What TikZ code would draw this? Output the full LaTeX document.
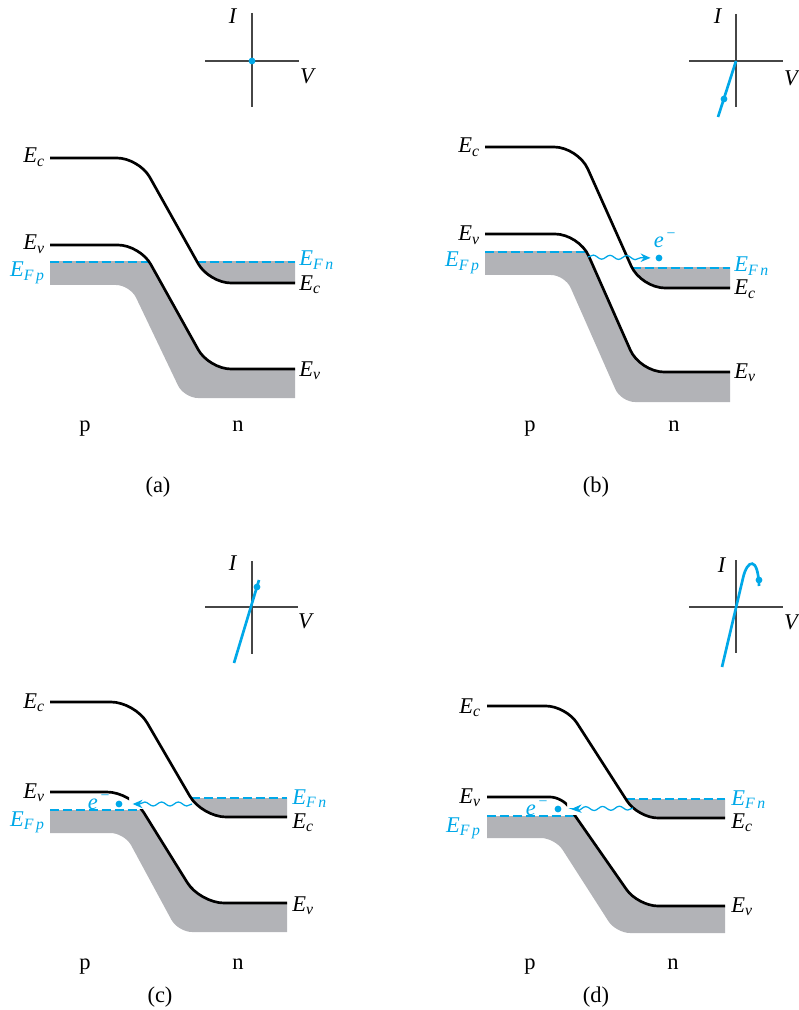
\documentclass[tikz,border=0pt]{standalone}
\usepackage{fontspec}
\setmainfont{Liberation Serif}
\usetikzlibrary{arrows.meta, decorations.pathmorphing}
\definecolor{fermiblue}{RGB}{0,168,232}
\definecolor{bandgray}{RGB}{178,179,183}
\definecolor{axisgray}{RGB}{70,70,70}
\newcommand{\En}[1]{\textit{E}\textsubscript{\textit{#1}}}
\newcommand{\elec}{\textit{e}\textsuperscript{\,−}}
\tikzset{%
  level/.style={line width=1.9pt, rounded corners=.55cm},
  fermi/.style={fermiblue, line width=1.05pt, dash pattern=on 6.4pt off 2.8pt},
  filled/.style={fill=bandgray},
  axis/.style={axisgray, line width=.9pt},
  ivline/.style={fermiblue, line width=1.9pt},
  dot/.style={circle, fill=fermiblue, inner sep=0pt, minimum size=.17cm},
  wavy/.style={fermiblue, line width=.9pt, decorate,
               decoration={snake, amplitude=.05cm, segment length=.42cm, post length=.22cm},
               -{Stealth[length=7pt,width=6pt]}},
  lbl/.style={font=\fontsize{16}{19}\selectfont, inner sep=0pt},
}

\begin{document}
\begin{tikzpicture}[x=0.025cm, y=-0.025cm]
\useasboundingbox (0,0) rectangle (798,1010);

%%%%%%%% (a) zero bias
% I-V sketch
\draw[axis] (205,61) -- (299,61);
\draw[axis] (252,13) -- (252,107);
\node[dot] (qa) at (252,61) {};
\node[lbl] (Ia) at (233,16) {\textit{I}};
\node[lbl] (Va) at (308,76) {\textit{V}};
% filled states
\begin{scope}
  \clip (50,262) rectangle (295,450);
  \clip[rounded corners=.35cm] (0,0) -- (0,285) -- (130,285) -- (184,398) -- (400,398) -- (400,0) -- cycle;
  \fill[filled, rounded corners=.55cm] (0,245) -- (140,245) -- (209,369) -- (400,369) -- (400,450) -- (0,450) -- cycle;
\end{scope}
\begin{scope}
  \clip (50,262) rectangle (295,450);
  \fill[filled, rounded corners=.55cm] (0,158) -- (139,158) -- (209,283) -- (400,283) -- (400,0) -- (0,0) -- cycle;
\end{scope}
% band edges and Fermi levels
\draw[fermi] (50,262) -- (150,262);
\draw[fermi] (197,262) -- (295,262);
\draw[level] (50,158) -- (139,158) -- (209,283) -- (295,283);
\draw[level] (50,245) -- (140,245) -- (209,369) -- (295,369);
\node[lbl, anchor=base east] (Eca) at (45,163) {\En{c}};
\node[lbl, anchor=base east] (Eva) at (45,250) {\En{v}};
\node[lbl, anchor=base east, text=fermiblue] (EFpa) at (45,277) {\En{F\,p}};
\node[lbl, anchor=base west, text=fermiblue] (EFna) at (299,266) {\En{F\,n}};
\node[lbl, anchor=base west] (Eca2) at (299,290) {\En{c}};
\node[lbl, anchor=base west] (Eva2) at (299,376) {\En{v}};
\node[lbl, anchor=base] (pa) at (85,431) {p};
\node[lbl, anchor=base] (na) at (238,431) {n};
\node[lbl, anchor=base] (capa) at (158,492) {(a)};

%%%%%%%% (b) reverse bias
\draw[axis] (689,61) -- (783,61);
\draw[axis] (736,14) -- (736,107);
\draw[ivline] (736,61) -- (718,117);
\node[dot] (qb) at (724,99) {};
\node[lbl] (Ib) at (718,16) {\textit{I}};
\node[lbl] (Vb) at (792,78) {\textit{V}};
% filled states
\begin{scope}
  \clip (485,252) rectangle (730,450);
  \clip[rounded corners=.35cm] (400,0) -- (400,275) -- (565,275) -- (621,402) -- (800,402) -- (800,0) -- cycle;
  \fill[filled, rounded corners=.6cm] (400,234) -- (579,234) -- (640,372) -- (800,372) -- (800,450) -- (400,450) -- cycle;
\end{scope}
\begin{scope}
  \clip (485,268) rectangle (730,450);
  \fill[filled, rounded corners=.6cm] (400,147) -- (578,147) -- (641,288) -- (800,288) -- (800,0) -- (400,0) -- cycle;
\end{scope}
\draw[fermi] (485,252) -- (587,252);
\draw[fermi] (632,268) -- (730,268);
\draw[level, rounded corners=.6cm] (485,147) -- (578,147) -- (641,288) -- (730,288);
\draw[level, rounded corners=.6cm] (485,234) -- (579,234) -- (640,372) -- (730,372);
% tunnelling electron
\node[dot] (eb) at (659,258) {};
\coordinate (wb) at (588,257);
\draw[wavy, shorten >=.12cm] (wb) -- (eb);
\node[lbl, text=fermiblue] (elb) at (665,240) {\elec};
\node[lbl, anchor=base east] (Ecb) at (480,153) {\En{c}};
\node[lbl, anchor=base east] (Evb) at (480,241) {\En{v}};
\node[lbl, anchor=base east, text=fermiblue] (EFpb) at (480,267) {\En{F\,p}};
\node[lbl, anchor=base west, text=fermiblue] (EFnb) at (734,272) {\En{F\,n}};
\node[lbl, anchor=base west] (Ecb2) at (734,295) {\En{c}};
\node[lbl, anchor=base west] (Evb2) at (734,378) {\En{v}};
\node[lbl, anchor=base] (pb) at (530,431) {p};
\node[lbl, anchor=base] (nb) at (674,431) {n};
\node[lbl, anchor=base] (capb) at (596,492) {(b)};

%%%%%%%% (c) small forward bias
\draw[axis] (205,607) -- (298,607);
\draw[axis] (252,561) -- (252,654);
\draw[ivline] (234,663) -- (259,580);
\node[dot] (qc) at (257,587) {};
\node[lbl] (Ic) at (233,563) {\textit{I}};
\node[lbl] (Vc) at (306,621) {\textit{V}};
% filled states
\begin{scope}
  \clip (50,810) rectangle (287,1000);
  \clip[rounded corners=.35cm] (0,600) -- (0,833) -- (124.5,833) -- (178,932) -- (400,932) -- (400,600) -- cycle;
  \fill[filled, rounded corners=.6cm] (0,792) -- (131,792) -- (200,903) -- (400,903) -- (400,1000) -- (0,1000) -- cycle;
\end{scope}
\begin{scope}
  \clip (50,798) rectangle (287,1000);
  \fill[filled, rounded corners=.6cm] (0,702) -- (135,702) -- (202,817) -- (400,817) -- (400,600) -- (0,600) -- cycle;
\end{scope}
\draw[fermi] (50,810) -- (140,810);
\draw[fermi] (191,798) -- (287,798);
\draw[level, rounded corners=.6cm] (50,702) -- (135,702) -- (202,817) -- (287,817);
% valence edge, broken where the electron arrives
\begin{scope}
  \clip (0,600) rectangle (129,1000);
  \draw[level, rounded corners=.6cm] (50,792) -- (131,792) -- (200,903) -- (287,903);
\end{scope}
\begin{scope}
  \clip (0,809) rectangle (400,1000);
  \draw[level, rounded corners=.6cm] (50,792) -- (131,792) -- (200,903) -- (287,903);
\end{scope}
\node[dot] (ec) at (119,804) {};
\coordinate (wc) at (192,804);
\draw[wavy, shorten >=.25cm] (wc) -- (ec);
\node[lbl, text=fermiblue] (elc) at (99,802) {\elec};
\node[lbl, anchor=base east] (Ecc) at (45,708) {\En{c}};
\node[lbl, anchor=base east] (Evc) at (45,798) {\En{v}};
\node[lbl, anchor=base east, text=fermiblue] (EFpc) at (45,826) {\En{F\,p}};
\node[lbl, anchor=base west, text=fermiblue] (EFnc) at (292,804) {\En{F\,n}};
\node[lbl, anchor=base west] (Ecc2) at (292,828) {\En{c}};
\node[lbl, anchor=base west] (Evc2) at (292,911) {\En{v}};
\node[lbl, anchor=base] (pc) at (85,969) {p};
\node[lbl, anchor=base] (nc) at (238,969) {n};
\node[lbl, anchor=base] (capc) at (160,1002) {(c)};

%%%%%%%% (d) peak current
\draw[axis] (689,607) -- (783,607);
\draw[axis] (736,560) -- (736,653);
\draw[ivline] (722,667) -- (743,578) .. controls (747,560) and (758,555) .. (759,586);
\node[dot] (qd) at (759,580) {};
\node[lbl] (Id) at (722,565) {\textit{I}};
\node[lbl] (Vd) at (792,622) {\textit{V}};
% filled states
\begin{scope}
  \clip (487,816) rectangle (725,1000);
  \clip[rounded corners=.35cm] (400,600) -- (400,838) -- (555,838) -- (616,933) -- (800,933) -- (800,600) -- cycle;
  \fill[filled, rounded corners=.5cm] (400,797) -- (562,797) -- (638,906) -- (800,906) -- (800,1000) -- (400,1000) -- cycle;
\end{scope}
\begin{scope}
  \clip (487,799) rectangle (725,1000);
  \fill[filled, rounded corners=.5cm] (400,706) -- (566,706) -- (638,818) -- (800,818) -- (800,600) -- (400,600) -- cycle;
\end{scope}
\draw[fermi] (487,816) -- (575,816);
\draw[fermi] (626,799) -- (725,799);
\draw[level, rounded corners=.5cm] (487,706) -- (566,706) -- (638,818) -- (725,818);
\begin{scope}
  \clip (400,600) rectangle (567,1000);
  \draw[level, rounded corners=.3cm] (487,797) -- (562,797) -- (638,906) -- (725,906);
\end{scope}
\begin{scope}
  \clip (400,815) rectangle (800,1000);
  \draw[level, rounded corners=.5cm] (487,797) -- (562,797) -- (638,906) -- (725,906);
\end{scope}
\node[dot] (ed) at (558,809) {};
\coordinate (wd) at (633,808);
\draw[wavy, shorten >=.25cm] (wd) -- (ed);
\node[lbl, text=fermiblue] (eld) at (537,808) {\elec};
\node[lbl, anchor=base east] (Ecd) at (481,713) {\En{c}};
\node[lbl, anchor=base east] (Evd) at (481,803) {\En{v}};
\node[lbl, anchor=base east, text=fermiblue] (EFpd) at (481,832) {\En{F\,p}};
\node[lbl, anchor=base west, text=fermiblue] (EFnd) at (731,805) {\En{F\,n}};
\node[lbl, anchor=base west] (Ecd2) at (731,828) {\En{c}};
\node[lbl, anchor=base west] (Evd2) at (731,912) {\En{v}};
\node[lbl, anchor=base] (pd) at (530,969) {p};
\node[lbl, anchor=base] (nd) at (673,969) {n};
\node[lbl, anchor=base] (capd) at (596,1002) {(d)};

\end{tikzpicture}
\end{document}
